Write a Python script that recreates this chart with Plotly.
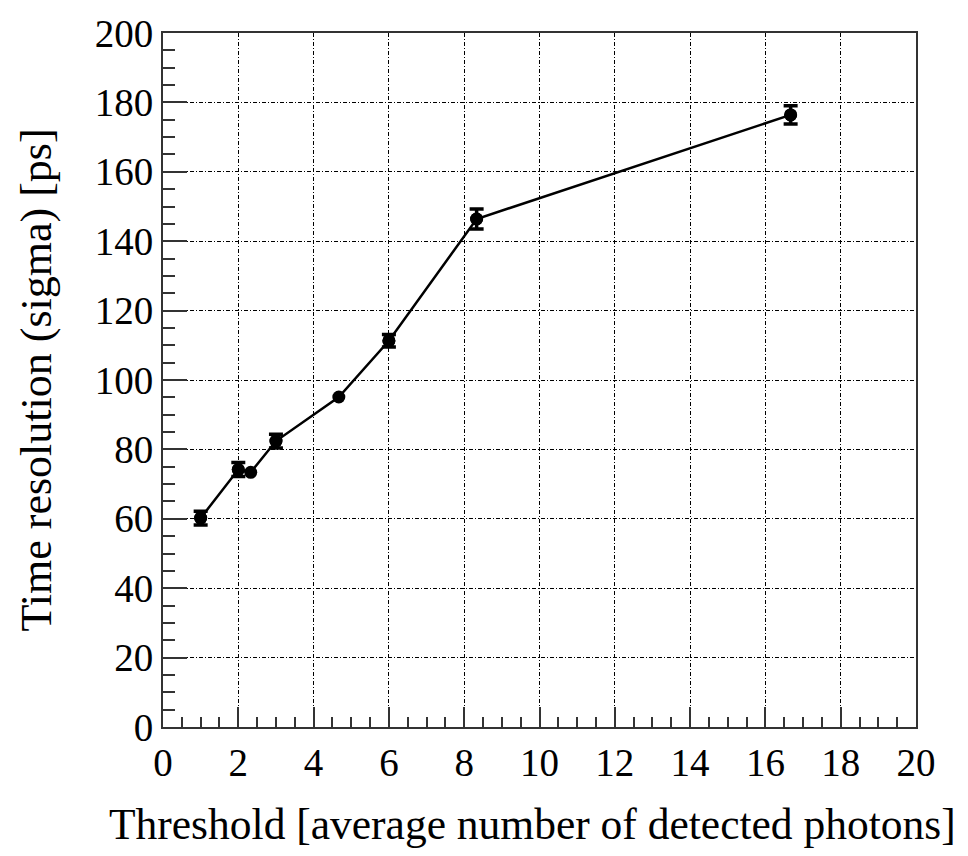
import plotly.graph_objects as go

# Data
threshold = [1.0, 2.0, 2.33, 3.0, 4.67, 6.0, 8.33, 16.67]
sigma_ps = [60.2, 74.2, 73.4, 82.4, 95.1, 111.3, 146.4, 176.4]
sigma_err = [2.0, 2.0, 0.0, 2.0, 0.0, 1.8, 2.9, 2.6]

x_ticks = list(range(0, 21, 2))
y_ticks = list(range(0, 201, 20))

FONT = "Liberation Serif"

err_idx = [i for i, e in enumerate(sigma_err) if e > 0]

fig = go.Figure()
fig.add_trace(go.Scatter(
    x=threshold, y=sigma_ps, mode="lines+markers",
    line=dict(color="black", width=2.5),
    marker=dict(symbol="circle", size=13, color="black"),
    showlegend=False, hoverinfo="skip",
))
fig.add_trace(go.Scatter(
    x=[threshold[i] for i in err_idx],
    y=[sigma_ps[i] for i in err_idx],
    mode="markers",
    marker=dict(symbol="circle", size=13, color="black"),
    error_y=dict(type="data", array=[sigma_err[i] for i in err_idx],
                 visible=True, color="black", thickness=3.5, width=7),
    showlegend=False, hoverinfo="skip",
))

axis_common = dict(
    showline=True, linecolor="#333333", linewidth=2, mirror=True,
    showgrid=True, gridcolor="black", gridwidth=1, griddash="4px,2px,1px,2px",
    zeroline=False, ticks="inside", tickcolor="#333333", tickwidth=2,
    tickfont=dict(family=FONT, size=39, color="black"),
)

fig.update_xaxes(
    range=[0, 20], tickvals=x_ticks, ticklen=20,
    minor=dict(dtick=0.5, ticks="inside", ticklen=10, tickcolor="#333333",
               tickwidth=2, showgrid=False),
    **axis_common,
)
fig.update_yaxes(
    range=[0, 200], tickvals=y_ticks, ticklen=24,
    minor=dict(dtick=5, ticks="inside", ticklen=12, tickcolor="#333333",
               tickwidth=2, showgrid=False),
    **axis_common,
)

fig.add_annotation(
    text="Threshold [average number of detected photons]",
    xref="paper", yref="paper", x=1.056, y=-0.14,
    xanchor="right", yanchor="middle", showarrow=False,
    font=dict(family=FONT, size=43.5, color="black"),
)
fig.add_annotation(
    text="Time resolution (sigma) [ps]",
    xref="paper", yref="paper", x=-0.168, y=0.5,
    xanchor="center", yanchor="middle", textangle=-90, showarrow=False,
    font=dict(family=FONT, size=44, color="black"),
)

fig.update_layout(
    width=968, height=856,
    margin=dict(l=163, r=52, t=27, b=129),
    paper_bgcolor="white", plot_bgcolor="white",
)

fig.write_html("out.html")
